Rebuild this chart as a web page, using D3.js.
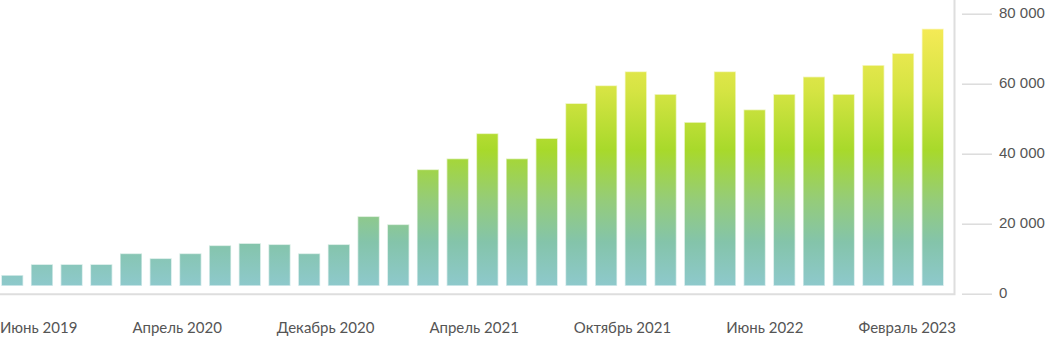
<!DOCTYPE html>
<html lang="ru">
<head>
<meta charset="utf-8">
<script src="https://cdn.jsdelivr.net/npm/d3@7/dist/d3.min.js"></script>
<style>
  html, body { margin: 0; padding: 0; background: #fff; }
  svg { display: block; font-family: Lato, "Open Sans", sans-serif; }
</style>
</head>
<body>
<svg id="chart" width="1050" height="342"></svg>
<script>
// Monthly totals, one bar per reporting period
const values = [
  5100, 8200, 8200, 8200, 11300, 9900, 11300, 13600,
  14200, 13900, 11300, 13900, 21900, 19600, 35300, 38400,
  45600, 38400, 44200, 54200, 59300, 63300, 56800, 48800,
  63300, 52400, 56800, 61800, 56800, 65100, 68500, 75500
];
const periodLabels = [
  "Июнь 2019", "Апрель 2020", "Декабрь 2020", "Апрель 2021",
  "Октябрь 2021", "Июнь 2022", "Февраль 2023"
];
const yTicks = [0, 20000, 40000, 60000, 80000];

// Vertical colour ramp shared by all bars (teal at the bottom, yellow at the top)
const rampStops = [
  { y: 29,  c: "#f4ea56" },
  { y: 90,  c: "#d6e443" },
  { y: 150, c: "#a8d92b" },
  { y: 200, c: "#95cc79" },
  { y: 242, c: "#84c4aa" },
  { y: 286, c: "#8ec9cc" }
];

const svg = d3.select("#chart");
const W = 1050, H = 342;
const frameRight = 954.5, frameBottom = 294.3;

const x = d3.scaleBand()
  .domain(d3.range(values.length))
  .range([2, 943])
  .paddingInner(0.31)
  .paddingOuter(0);

const y = d3.scaleLinear().domain([0, 80000]).range([293.7, 13.7]);
const barBase = y(0) - 8.5;

const grad = svg.append("defs").append("linearGradient")
  .attr("id", "barRamp")
  .attr("gradientUnits", "userSpaceOnUse")
  .attr("x1", 0).attr("x2", 0)
  .attr("y1", rampStops[0].y).attr("y2", rampStops[rampStops.length - 1].y);
const y0 = rampStops[0].y, y1 = rampStops[rampStops.length - 1].y;
grad.selectAll("stop").data(rampStops).join("stop")
  .attr("offset", d => (d.y - y0) / (y1 - y0))
  .attr("stop-color", d => d.c);

// Plot frame: right and bottom edges only
svg.append("path")
  .attr("d", `M${frameRight},0 V${frameBottom} H0`)
  .attr("fill", "none")
  .attr("stroke", "#dedede")
  .attr("stroke-width", 2);

// Bars
svg.append("g").selectAll("rect").data(values).join("rect")
  .attr("x", (d, i) => x(i))
  .attr("width", x.bandwidth())
  .attr("y", d => y(d))
  .attr("height", d => barBase - y(d))
  .attr("fill", "url(#barRamp)")
  .attr("stroke", "url(#barRamp)")
  .attr("stroke-opacity", 0.4)
  .attr("stroke-width", 1.5);

// Right-hand value axis
const ru = d3.formatLocale({ decimal: ",", thousands: "\u00a0", grouping: [3], currency: ["", ""] });
const yAxis = d3.axisRight(y)
  .tickValues(yTicks)
  .tickSize(30)
  .tickPadding(7)
  .tickFormat(ru.format(",d"));

const gy = svg.append("g")
  .attr("transform", "translate(962,0)")
  .call(yAxis);
gy.select(".domain").remove();
gy.selectAll(".tick line").attr("stroke", "#dcdcdc").attr("stroke-width", 1.5);
gy.selectAll(".tick text")
  .attr("fill", "#555")
  .attr("font-size", 15)
  .attr("dy", "0.26em");

// Period labels spread evenly across the plot width
const lab = svg.append("g").attr("font-size", 15).attr("fill", "#555");
const texts = lab.selectAll("text").data(periodLabels).join("text")
  .attr("y", 333)
  .text(d => d);
const widths = [];
texts.each(function () { widths.push(this.getComputedTextLength()); });
const span = 956;
const gap = (span - d3.sum(widths)) / (periodLabels.length - 1);
let cursor = 0;
texts.attr("x", (d, i) => {
  const pos = cursor;
  cursor += widths[i] + gap;
  return pos;
});
</script>
</body>
</html>
